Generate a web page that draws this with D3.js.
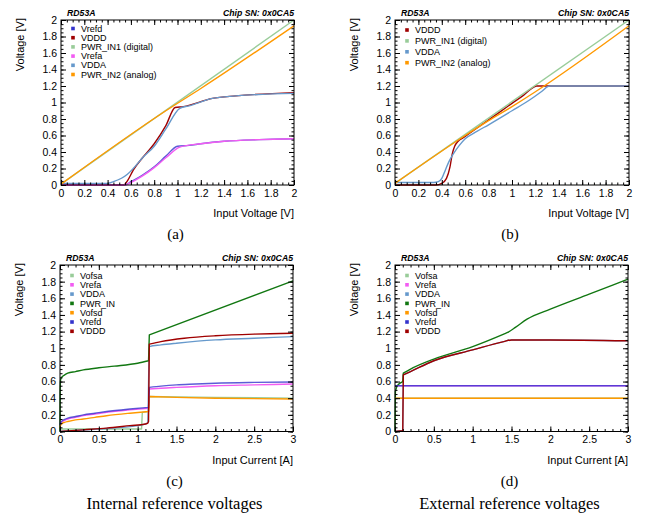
<!DOCTYPE html>
<html>
<head>
<meta charset="utf-8">
<script src="https://cdn.jsdelivr.net/npm/d3@7"></script>
<style>
  body { margin: 0; background: #fff; }
  svg { display: block; }
  .tick text { font-family: "Liberation Sans", Arial, sans-serif; font-size: 10.5px; fill: #000; }
  .tick line { stroke: #000; stroke-width: 1px; }
  .domain { display: none; }
  .atitle { font-family: "Liberation Sans", Arial, sans-serif; font-size: 11px; }
  .lab { font-family: "Liberation Sans", Arial, sans-serif; font-size: 8.7px; font-weight: bold; font-style: italic; }
  .leg { font-family: "Liberation Sans", Arial, sans-serif; font-size: 9px; }
  .cap { font-family: "Liberation Serif", "Times New Roman", serif; font-size: 15px; }
  .sub { font-family: "Liberation Serif", "Times New Roman", serif; font-size: 16.5px; }
</style>
</head>
<body>
<svg id="svg" width="645" height="515"></svg>
<script>
// ---- data ----
// (a) internal regulators, input voltage sweep
var aVrefd   = [[0,0],[0.55,0],[0.6,0.04],[0.7,0.12],[0.8,0.22],[0.9,0.35],[1.0,0.47],[1.1,0.48],[1.2,0.5],[1.4,0.53],[1.7,0.55],[2,0.56]];
var aVddd    = [[0,0],[0.54,0],[0.57,0.05],[0.62,0.18],[0.7,0.33],[0.8,0.5],[0.9,0.72],[0.98,0.94],[1.05,0.95],[1.3,1.05],[1.5,1.08],[2,1.12]];
var aPwrIn1  = [[0,0.01],[2,2.0]];
var aVrefa   = [[0,0],[0.55,0],[0.6,0.03],[0.7,0.11],[0.8,0.21],[0.9,0.33],[1.02,0.46],[1.2,0.5],[1.4,0.53],[1.7,0.55],[2,0.56]];
var aVdda    = [[0,0.02],[0.4,0.02],[0.45,0.04],[0.57,0.13],[0.62,0.2],[0.7,0.33],[0.8,0.47],[0.9,0.68],[1.02,0.93],[1.1,0.96],[1.3,1.05],[1.5,1.08],[2,1.11]];
var aPwrIn2  = [[0,0.01],[0.9,0.9],[1.2,1.17],[2,1.93]];
// (b) external regulators, input voltage sweep
var bVddd    = [[0,0],[0.35,0],[0.4,0.02],[0.44,0.08],[0.47,0.22],[0.49,0.38],[0.51,0.47],[0.54,0.53],[0.58,0.57],[0.62,0.61],[0.8,0.79],[1.0,0.99],[1.1,1.09],[1.19,1.19],[1.21,1.2],[2,1.2]];
var bPwrIn1  = [[0,0.02],[2,2.0]];
var bVdda    = [[0,0.03],[0.33,0.03],[0.37,0.04],[0.4,0.08],[0.43,0.18],[0.46,0.28],[0.5,0.38],[0.55,0.48],[0.6,0.56],[0.7,0.65],[0.8,0.73],[1.0,0.9],[1.15,1.03],[1.25,1.13],[1.31,1.195],[1.33,1.2],[2,1.2]];
var bPwrIn2  = [[0,0.02],[0.6,0.6],[0.8,0.78],[1.0,0.95],[1.2,1.13],[2,1.93]];
// (c) internal reference voltages, input current sweep
var cVofsa   = [[0,0.03],[1.05,0.03],[1.06,0.23],[1.14,0.24],[1.15,0.42],[2,0.41],[3,0.4]];
var cVrefa   = [[0,0.08],[0.01,0.1],[0.03,0.12],[0.06,0.135],[0.1,0.15],[0.2,0.17],[0.3,0.19],[0.45,0.21],[0.6,0.23],[0.9,0.26],[1.14,0.28],[1.15,0.51],[1.3,0.52],[1.5,0.53],[2,0.55],[2.5,0.56],[3,0.57]];
var cVdda    = [[0,0],[0.5,0.03],[1.0,0.07],[1.13,0.1],[1.15,1.02],[1.3,1.04],[1.5,1.06],[2,1.1],[2.5,1.12],[3,1.14]];
var cPwrIn   = [[0,0],[0.002,0.5],[0.005,0.6],[0.01,0.63],[0.03,0.66],[0.06,0.68],[0.1,0.7],[0.2,0.72],[0.3,0.74],[0.5,0.765],[0.7,0.785],[1.0,0.82],[1.14,0.85],[1.15,1.16],[3,1.81]];
var cVofsd   = [[0,0.05],[0.01,0.08],[0.03,0.1],[0.06,0.11],[0.1,0.12],[0.2,0.14],[0.3,0.15],[0.45,0.17],[0.6,0.19],[0.9,0.22],[1.14,0.24],[1.15,0.42],[1.5,0.41],[2,0.4],[3,0.39]];
var cVrefd   = [[0,0.08],[0.01,0.11],[0.03,0.13],[0.06,0.145],[0.1,0.16],[0.2,0.18],[0.3,0.2],[0.45,0.22],[0.6,0.24],[0.9,0.27],[1.14,0.29],[1.15,0.53],[1.3,0.545],[1.5,0.56],[1.75,0.57],[2,0.58],[2.5,0.59],[3,0.595]];
var cVddd    = [[0,0],[0.3,0.02],[0.6,0.04],[0.9,0.07],[1.1,0.09],[1.13,0.1],[1.14,0.12],[1.15,1.05],[1.3,1.08],[1.6,1.12],[2,1.15],[2.5,1.17],[3,1.18]];
// (d) external reference voltages, input current sweep
var dVofsa   = [[0,0.4],[3,0.4]];
var dVrefa   = [[0,0.55],[3,0.55]];
var dVdda    = [[0,0],[0.1,0.01],[0.107,0.68],[0.2,0.72],[0.5,0.85],[1.0,0.98],[1.4,1.08],[1.5,1.1],[2,1.1],[3,1.09]];
var dPwrIn   = [[0,0],[0.005,0.48],[0.03,0.55],[0.1,0.6],[0.107,0.7],[0.2,0.75],[0.5,0.87],[1.0,1.02],[1.4,1.17],[1.45,1.19],[1.55,1.25],[1.7,1.35],[2,1.47],[2.5,1.65],[3,1.83]];
var dVofsd   = [[0,0.4],[3,0.4]];
var dVrefd   = [[0,0.55],[3,0.55]];
var dVddd    = [[0,0],[0.1,0.01],[0.107,0.68],[0.2,0.72],[0.5,0.85],[1.0,0.98],[1.4,1.08],[1.5,1.1],[2,1.1],[3,1.09]];

var voltTicks = [0,0.2,0.4,0.6,0.8,1,1.2,1.4,1.6,1.8,2];
var currTicks = [0,0.5,1,1.5,2,2.5,3];

var col = {
  vrefd: "#3333cc", vddd: "#a00000", pin1: "#99cc99", vrefa: "#f25cf2",
  vdda: "#6699cc", pin2: "#ff9900", pin: "#117711", vofsa: "#99cc99", vofsd: "#ff9900"
};

var panels = [
  { x: 61, y: 20, w: 233, h: 165, xmax: 2, xt: voltTicks, xminor: 0.05, xtitle: "Input Voltage [V]",
    cap: "(a)", legY: 8.5, legDy: 9.2,
    series: [["Vrefd", aVrefd, col.vrefd], ["VDDD", aVddd, col.vddd], ["PWR_IN1 (digital)", aPwrIn1, col.pin1],
             ["Vrefa", aVrefa, col.vrefa], ["VDDA", aVdda, col.vdda], ["PWR_IN2 (analog)", aPwrIn2, col.pin2]] },
  { x: 395, y: 20, w: 234, h: 165, xmax: 2, xt: voltTicks, xminor: 0.05, xtitle: "Input Voltage [V]",
    cap: "(b)", legY: 10, legDy: 10.9,
    series: [["VDDD", bVddd, col.vddd], ["PWR_IN1 (digital)", bPwrIn1, col.pin1],
             ["VDDA", bVdda, col.vdda], ["PWR_IN2 (analog)", bPwrIn2, col.pin2]] },
  { x: 60, y: 265, w: 233, h: 166.5, xmax: 3, xt: currTicks, xminor: 0.1, xtitle: "Input Current [A]",
    cap: "(c)", sub: "Internal reference voltages", legY: 10.5, legDy: 9.3,
    series: [["Vofsa", cVofsa, col.vofsa], ["Vrefa", cVrefa, col.vrefa], ["VDDA", cVdda, col.vdda], ["PWR_IN", cPwrIn, col.pin],
             ["Vofsd", cVofsd, col.vofsd], ["Vrefd", cVrefd, col.vrefd], ["VDDD", cVddd, col.vddd]] },
  { x: 395, y: 265, w: 233, h: 166.5, xmax: 3, xt: currTicks, xminor: 0.1, xtitle: "Input Current [A]",
    cap: "(d)", sub: "External reference voltages", legY: 10.5, legDy: 9.3,
    series: [["Vofsa", dVofsa, col.vofsa], ["Vrefa", dVrefa, col.vrefa], ["VDDA", dVdda, col.vdda], ["PWR_IN", dPwrIn, col.pin],
             ["Vofsd", dVofsd, col.vofsd], ["Vrefd", dVrefd, col.vrefd], ["VDDD", dVddd, col.vddd]] }
];

var svg = d3.select("#svg");

// split a curve at its jumps (steps) so the smoothing does not ring around them
function pieces(pts) {
  var out = [[pts[0]]];
  for (var i = 1; i < pts.length; i++) {
    var dx = pts[i][0] - pts[i - 1][0], dy = Math.abs(pts[i][1] - pts[i - 1][1]);
    if (dx < 0.015 && dy > 0.08) out.push([]);
    out[out.length - 1].push(pts[i]);
  }
  return out;
}

panels.forEach(function (p) {
  var g = svg.append("g").attr("transform", "translate(" + p.x + "," + p.y + ")");
  var x = d3.scaleLinear().domain([0, p.xmax]).range([0, p.w]);
  var y = d3.scaleLinear().domain([0, 2]).range([p.h, 0]);
  var fmt = function (d) { return String(+d.toFixed(2)); };
  var xMinor = d3.range(0, p.xmax + 1e-9, p.xminor);
  var yMinor = d3.range(0, 2 + 1e-9, 0.05);

  // curves
  var line = d3.line().x(function (d) { return x(d[0]); }).y(function (d) { return y(d[1]); })
    .curve(d3.curveMonotoneX);
  var cg = g.append("g");
  p.series.forEach(function (s) {
    var dstr = pieces(s[1]).map(function (seg, i) {
      var str = seg.length > 1 ? line(seg) : "M" + x(seg[0][0]) + "," + y(seg[0][1]);
      return i > 0 ? "L" + str.slice(1) : str;
    }).join("");
    cg.append("path").attr("d", dstr).attr("fill", "none")
      .attr("stroke", s[2]).attr("stroke-width", 1.4)
      .attr("stroke-opacity", s[0] == "Vrefd" ? 0.8 : 1)
      .attr("stroke-linejoin", "round");
  });

  // axes, ticks inside on all four sides
  g.append("g").attr("transform", "translate(0," + p.h + ")")
    .call(d3.axisBottom(x).tickValues(p.xt).tickFormat(fmt).tickSize(-5).tickPadding(4.5));
  g.append("g").attr("transform", "translate(0," + p.h + ")")
    .call(d3.axisBottom(x).tickValues(xMinor).tickFormat("").tickSize(-2.5));
  g.append("g").call(d3.axisTop(x).tickValues(p.xt).tickFormat("").tickSize(-5));
  g.append("g").call(d3.axisTop(x).tickValues(xMinor).tickFormat("").tickSize(-2.5));
  g.append("g").call(d3.axisLeft(y).tickValues(voltTicks).tickFormat(fmt).tickSize(-5).tickPadding(4));
  g.append("g").call(d3.axisLeft(y).tickValues(yMinor).tickFormat("").tickSize(-2.5));
  g.append("g").attr("transform", "translate(" + p.w + ",0)")
    .call(d3.axisRight(y).tickValues(voltTicks).tickFormat("").tickSize(-5));
  g.append("g").attr("transform", "translate(" + p.w + ",0)")
    .call(d3.axisRight(y).tickValues(yMinor).tickFormat("").tickSize(-2.5));

  g.append("rect").attr("width", p.w).attr("height", p.h)
    .attr("fill", "none").attr("stroke", "#000").attr("stroke-width", 1);

  // titles
  g.append("text").attr("class", "atitle").attr("text-anchor", "end")
    .attr("x", p.w).attr("y", p.h + 32).text(p.xtitle);
  g.append("text").attr("class", "atitle").attr("text-anchor", "end")
    .attr("transform", "translate(-37.5,-2) rotate(-90)").text("Voltage [V]");
  g.append("text").attr("class", "lab").attr("x", 6).attr("y", -4.5).text("RD53A");
  g.append("text").attr("class", "lab").attr("text-anchor", "end")
    .attr("x", p.w).attr("y", -4.5).text("Chip SN: 0x0CA5");

  // legend
  var lg = g.append("g").selectAll("g").data(p.series).enter().append("g")
    .attr("transform", function (d, i) { return "translate(12," + (p.legY + i * p.legDy) + ")"; });
  lg.append("rect").attr("x", -1.8).attr("y", -1.8).attr("width", 3.6).attr("height", 3.6)
    .attr("fill", function (d) { return d[2]; });
  lg.append("text").attr("class", "leg").attr("x", 8).attr("dy", "0.35em").text(function (d) { return d[0]; });

  // captions under the panel
  svg.append("text").attr("class", "cap").attr("text-anchor", "middle")
    .attr("x", p.x + p.w / 2 - 2).attr("y", p.y + p.h + 54).text(p.cap);
  if (p.sub) {
    svg.append("text").attr("class", "sub").attr("text-anchor", "middle")
      .attr("x", p.x + p.w / 2 - 2).attr("y", p.y + p.h + 77).text(p.sub);
  }
});
</script>
</body>
</html>
